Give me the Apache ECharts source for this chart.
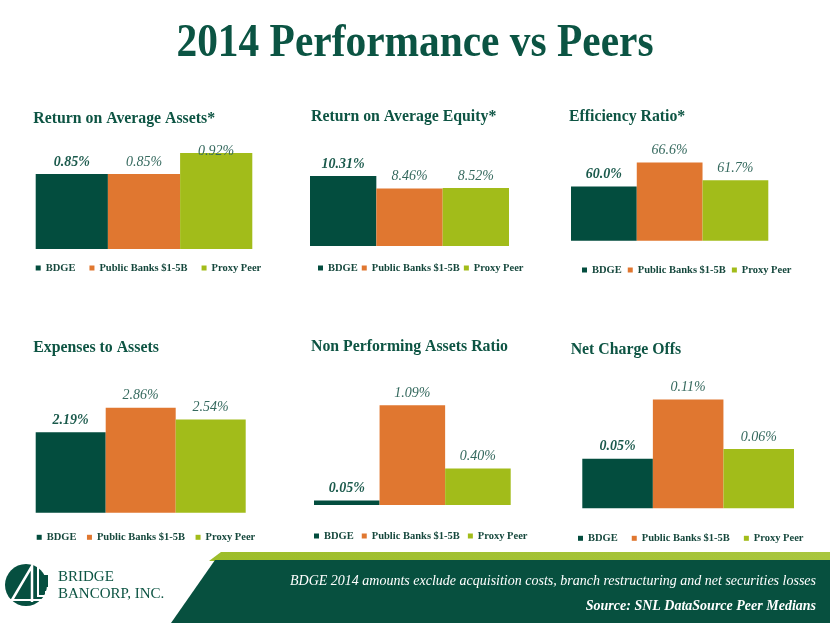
<!DOCTYPE html>
<html><head><meta charset="utf-8">
<script src="https://cdn.jsdelivr.net/npm/echarts@6/dist/echarts.min.js"></script>
<style>html,body{margin:0;padding:0;background:#fff}#c{width:830px;height:623px}</style>
</head><body><div id="c"></div>
<script>
// ---- data ----
const seriesNames = ['BDGE', 'Public Banks $1-5B', 'Proxy Peer'];
const chartTitles = ['Return on Average Assets*', 'Return on Average Equity*', 'Efficiency Ratio*',
  'Expenses to Assets', 'Non Performing Assets Ratio', 'Net Charge Offs'];
const bdgeValues = [0.85, 10.31, 60.0, 2.19, 0.05, 0.05];
const publicBankValues = [0.85, 8.46, 66.6, 2.86, 1.09, 0.11];
const proxyPeerValues = [0.92, 8.52, 61.7, 2.54, 0.40, 0.06];
const valueDecimals = [2, 2, 1, 2, 2, 2];
const pageTitle = '2014 Performance vs Peers';
const footnote = 'BDGE 2014 amounts exclude acquisition costs, branch restructuring and net securities losses';
const sourceNote = 'Source: SNL DataSource Peer Medians';
const logoLines = ['BRIDGE', 'BANCORP, INC.'];

// ---- layout / style ----
const SERIF = "'Liberation Serif', 'Times New Roman', serif";
const DARK = '#064f40';
const colors = ['#034d3e', '#e07730', '#a2bc1a'];
const layout = [
  {l: 35.7, r: 252.3, t: 144, b: 249, min: 0.6, max: 0.95, tx: 33.3, ty: 119.5, lx: 35.7, ly: 268, gap: 14, nudge: [0, 0, 10]},
  {l: 310, r: 509, t: 164.4, b: 246, min: 0, max: 12, tx: 311, ty: 118, lx: 318, ly: 268, gap: 4, nudge: [0, 0, 0]},
  {l: 571, r: 768.3, t: 150.2, b: 240.7, min: 45, max: 70, tx: 569, ty: 118, lx: 582, ly: 270, gap: 6, nudge: [0, 0, 0]},
  {l: 35.7, r: 245.7, t: 384.2, b: 512.7, min: 0, max: 3.5, tx: 33.3, ty: 348.5, lx: 36.7, ly: 537.3, gap: 10.5, nudge: [0, 0, 0]},
  {l: 314, r: 510.7, t: 395.2, b: 505, min: 0, max: 1.2, tx: 311, ty: 348.4, lx: 314, ly: 536, gap: 8, nudge: [0, 0, 0]},
  {l: 582.3, r: 794, t: 389.5, b: 508.3, min: 0, max: 0.12, tx: 570.7, ty: 350.5, lx: 578, ly: 538.3, gap: 14, nudge: [0, 0, 0]}
];

const valueSets = [bdgeValues, publicBankValues, proxyPeerValues];
const grid = [], xAxis = [], yAxis = [], series = [], legend = [], graphic = [];

layout.forEach((L, i) => {
  grid.push({left: L.l, top: L.t, width: L.r - L.l, height: L.b - L.t, containLabel: false, outerBoundsMode: 'none'});
  xAxis.push({type: 'category', gridIndex: i, data: [''], show: false});
  yAxis.push({type: 'value', gridIndex: i, min: L.min, max: L.max, show: false, splitLine: {show: false}});
  seriesNames.forEach((name, s) => {
    series.push({
      type: 'bar', name: name, xAxisIndex: i, yAxisIndex: i,
      data: [valueSets[s][i]],
      barGap: '0%', barCategoryGap: '0%',
      itemStyle: {color: colors[s]},
      silent: true, animation: false,
      label: {
        show: true, position: 'top', distance: 5,
        offset: [0, L.nudge[s]],
        fontFamily: SERIF, fontSize: 14, fontStyle: 'italic',
        fontWeight: s === 0 ? 'bold' : 'normal',
        color: s === 0 ? '#1b5a4c' : '#35695e',
        formatter: p => p.value.toFixed(valueDecimals[i]) + '%'
      }
    });
  });
  legend.push({
    data: seriesNames, left: L.lx, top: L.ly - 6, padding: 0,
    icon: 'rect', itemWidth: 5, itemHeight: 5, itemGap: L.gap, selectedMode: false,
    textStyle: {fontFamily: SERIF, fontSize: 10.5, fontWeight: 'bold', color: '#16483d', lineHeight: 12}
  });
  graphic.push({type: 'text', left: L.tx, top: L.ty - 9, silent: true,
    style: {text: chartTitles[i], font: 'bold 15.8px ' + SERIF, fill: '#0d5443'}});
});

// page title
graphic.push({type: 'text', x: 415, y: 44, scaleX: 0.9, silent: true,
  style: {text: pageTitle, font: 'bold 46px ' + SERIF, fill: '#0b5443', align: 'center', verticalAlign: 'middle'}});

// bottom band
graphic.push({type: 'polygon', silent: true, shape: {points: [[221, 552], [830, 552], [830, 561], [209, 561]]},
  style: {fill: new echarts.graphic.LinearGradient(0, 0, 1, 0, [{offset: 0, color: '#9dbd2a'}, {offset: 1, color: '#a9c63e'}])}});
graphic.push({type: 'polygon', silent: true, shape: {points: [[215, 560], [830, 560], [830, 623], [171, 623]]},
  style: {fill: '#07503f'}});
graphic.push({type: 'text', x: 816, y: 581, silent: true,
  style: {text: footnote, font: 'italic 14px ' + SERIF, fill: '#ffffff', align: 'right', verticalAlign: 'middle'}});
graphic.push({type: 'text', x: 816, y: 606, silent: true,
  style: {text: sourceNote, font: 'italic bold 14px ' + SERIF, fill: '#ffffff', align: 'right', verticalAlign: 'middle'}});

// logo
graphic.push({type: 'circle', silent: true, shape: {cx: 26, cy: 585, r: 21}, style: {fill: DARK}});
graphic.push({type: 'polyline', silent: true, shape: {points: [[12, 600], [32, 566], [32, 602]]},
  style: {stroke: '#fff', lineWidth: 2.5, fill: null}});
graphic.push({type: 'polyline', silent: true, shape: {points: [[6, 600], [44, 600]]},
  style: {stroke: '#fff', lineWidth: 2, fill: null}});
graphic.push({type: 'polyline', silent: true, shape: {points: [[38, 566], [38, 596], [46, 596], [46, 592], [52, 592]]},
  style: {stroke: '#fff', lineWidth: 2, fill: null}});
graphic.push({type: 'rect', silent: true, shape: {x: 41, y: 575, width: 7, height: 12}, style: {fill: DARK}});
graphic.push({type: 'text', x: 58, y: 577, silent: true,
  style: {text: logoLines[0], font: '15px ' + SERIF, fill: '#0d5443', verticalAlign: 'middle'}});
graphic.push({type: 'text', x: 58, y: 594, silent: true,
  style: {text: logoLines[1], font: '15px ' + SERIF, fill: '#0d5443', verticalAlign: 'middle'}});

const chart = echarts.init(document.getElementById('c'), null, {renderer: 'canvas'});
chart.setOption({animation: false, backgroundColor: '#ffffff', grid, xAxis, yAxis, series, legend, graphic});
</script>
</body></html>
